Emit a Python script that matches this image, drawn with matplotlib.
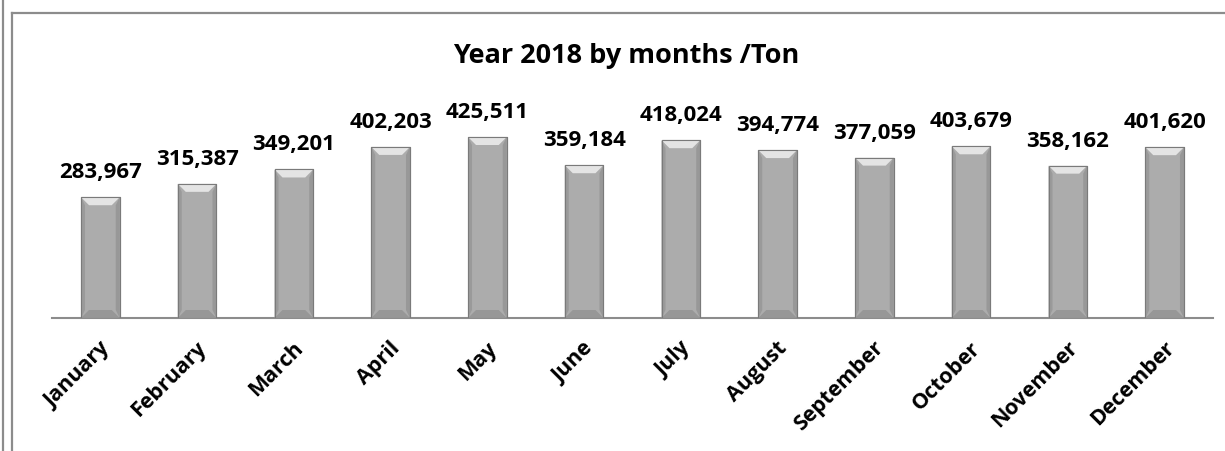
import matplotlib
matplotlib.use("Agg")
import matplotlib.pyplot as plt
from matplotlib.patches import Polygon
from matplotlib.lines import Line2D
import matplotlib.transforms as mtransforms

months = ["January", "February", "March", "April", "May", "June",
          "July", "August", "September", "October", "November", "December"]
tons = [283967, 315387, 349201, 402203, 425511, 359184,
        418024, 394774, 377059, 403679, 358162, 401620]
title = "Year 2018 by months /Ton"

plt.rcParams['font.family'] = ['Open Sans', 'DejaVu Sans']

fig = plt.figure(figsize=(12.25, 4.51), dpi=100)
W, H = 1225, 451

# frame lines like the pasted excel chart
fig.add_artist(Line2D([3 / W, 3 / W], [0, 1], color="#8c8c8c", lw=1.6))
fig.add_artist(Line2D([12 / W, 12 / W], [0, 1 - 13 / H], color="#8c8c8c", lw=1.6))
fig.add_artist(Line2D([12 / W, 1], [1 - 13 / H, 1 - 13 / H], color="#8c8c8c", lw=1.6))

ax = fig.add_axes([52 / W, (H - 318) / H, (1213 - 52) / W, (318 - 80) / H])
x = list(range(len(months)))
bars = ax.bar(x, tons, width=0.40, color="#acacac", edgecolor="#7a7a7a", lw=0.8, zorder=2)
ax.set_xlim(-0.5, len(months) - 0.5)
ax.set_ylim(0, max(tons) * 1.315)

for s in ["top", "right", "left"]:
    ax.spines[s].set_visible(False)
ax.spines["bottom"].set_color("#8c8c8c")
ax.spines["bottom"].set_linewidth(1.5)
ax.set_yticks([])
ax.tick_params(axis="x", length=0, pad=2)
ax.set_xticks(x)
ax.set_xticklabels(months, rotation=45, ha="right", va="top", rotation_mode="anchor",
                   fontsize=15.5, fontweight="bold")
off = mtransforms.ScaledTranslation(-1 / 100, -17 / 100, fig.dpi_scale_trans)
for lab in ax.get_xticklabels():
    lab.set_transform(lab.get_transform() + off)

# bevel effect on each bar
fig.canvas.draw()
inv = ax.transData.inverted()
bev = 8
for b in bars:
    x0, y0 = ax.transData.transform((b.get_x(), 0))
    x1, y1 = ax.transData.transform((b.get_x() + b.get_width(), b.get_height()))
    faces = [
        ([(x0, y1), (x1, y1), (x1 - bev, y1 - bev), (x0 + bev, y1 - bev)], "#e4e4e4"),
        ([(x0, y0), (x1, y0), (x1 - bev, y0 + bev), (x0 + bev, y0 + bev)], "#979797"),
        ([(x0, y0), (x0, y1), (x0 + 4, y1 - bev), (x0 + 4, y0 + bev)], "#9a9a9a"),
        ([(x1, y0), (x1, y1), (x1 - 4, y1 - bev), (x1 - 4, y0 + bev)], "#989898"),
    ]
    for pts, c in faces:
        ax.add_patch(Polygon(inv.transform(pts), closed=True, facecolor=c,
                             edgecolor="none", zorder=3))
    ax.add_patch(Polygon(inv.transform([(x0, y0), (x1, y0), (x1, y1), (x0, y1)]),
                         closed=True, fill=False, edgecolor="#7a7a7a", lw=0.8, zorder=4))

for xi, v in zip(x, tons):
    ax.annotate(f"{v:,}", (xi, v), xytext=(0, 13.7), textcoords="offset points",
                ha="center", va="baseline", fontsize=16, fontweight="bold")

fig.text(626 / W, 1 - 63 / H, title, ha="center", va="baseline", fontsize=19.5, fontweight="bold")

fig.savefig("out.png", dpi=100)
